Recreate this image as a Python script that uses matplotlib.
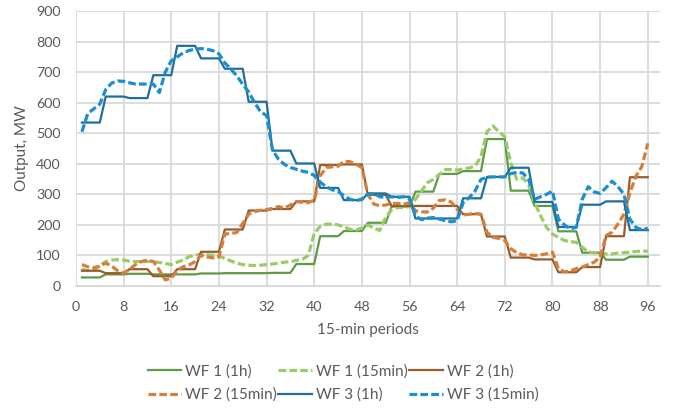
import numpy as np
import matplotlib
matplotlib.use("Agg")
import matplotlib.pyplot as plt

plt.rcParams["font.family"] = ["Lato", "DejaVu Sans"]

# hourly values (each repeated over four 15-min periods)
wf1_1h = [28, 38, 40, 38, 38, 41, 42, 42, 43, 72, 163, 180,
          207, 260, 309, 367, 376, 481, 312, 262, 179, 109, 86, 96]
wf2_1h = [50, 42, 55, 32, 55, 112, 185, 247, 252, 277, 396, 398,
          298, 262, 262, 262, 235, 162, 93, 87, 45, 62, 163, 356]
wf3_1h = [535, 620, 615, 690, 786, 745, 711, 603, 443, 401, 321, 281,
          303, 292, 221, 221, 287, 357, 387, 275, 193, 266, 277, 183]

# 15-min values
wf1_15 = [55, 50, 52, 66, 80, 85, 86, 85, 81, 80, 80, 80,
          80, 77, 74, 70, 78, 85, 96, 101, 104, 102, 101, 98,
          90, 82, 75, 70, 68, 67, 68, 70, 72, 75, 78, 80,
          84, 87, 100, 172, 195, 202, 203, 200, 193, 186, 183, 190,
          200, 190, 182, 225, 249, 257, 257, 260, 284, 311, 338, 349,
          365, 381, 381, 379, 384, 386, 392, 424, 505, 524, 505, 489,
          403, 349, 354, 332, 273, 230, 192, 170, 159, 149, 145, 143,
          127, 111, 109, 105, 105, 105, 108, 109, 111, 113, 114, 114]
wf2_15 = [70, 63, 60, 65, 75, 65, 50, 42, 55, 70, 80, 85,
          80, 52, 20, 25, 52, 63, 69, 80, 100, 95, 92, 95,
          170, 172, 175, 205, 235, 243, 248, 250, 254, 260, 255, 265,
          276, 274, 273, 281, 360, 388, 390, 392, 408, 407, 398, 388,
          300, 268, 263, 265, 270, 270, 268, 272, 246, 243, 242, 255,
          280, 282, 275, 251, 232, 235, 238, 235, 176, 159, 156, 149,
          122, 109, 102, 102, 100, 102, 105, 111, 57, 46, 49, 57,
          62, 70, 78, 95, 165, 176, 203, 235, 305, 359, 391, 467]
wf3_15 = [505, 565, 580, 595, 643, 664, 671, 670, 665, 661, 661, 661,
          661, 633, 700, 737, 750, 763, 771, 775, 777, 775, 770, 760,
          730, 710, 688, 660, 635, 600, 570, 558, 445, 415, 398, 388,
          382, 376, 372, 362, 340, 325, 315, 310, 295, 284, 279, 285,
          300, 303, 292, 290, 292, 290, 292, 285, 230, 217, 222, 224,
          219, 214, 210, 214, 273, 289, 311, 349, 356, 357, 357, 357,
          368, 372, 370, 349, 284, 292, 300, 311, 219, 200, 187, 192,
          284, 325, 308, 303, 322, 343, 325, 300, 219, 192, 184, 189]

periods = np.arange(1, 97)
x_ticks = np.arange(0, 97, 8)
y_ticks = np.arange(0, 901, 100)

text_color = "#595959"
grid_color = "#D9D9D9"

fig = plt.figure(figsize=(6.78, 4.16), dpi=100)
ax = fig.add_axes([0.112, 0.3125, 0.861, 0.661])

dash = (2.4, 1.0)
h1, = ax.plot(periods, np.repeat(wf1_1h, 4), color="#5F9A45", lw=1.6, label="WF 1 (1h)")
h2, = ax.plot(periods, wf1_15, color="#99CC68", lw=2.3, dashes=dash, label="WF 1 (15min)")
h3, = ax.plot(periods, np.repeat(wf2_1h, 4), color="#9A5A2A", lw=1.6, label="WF 2 (1h)")
h4, = ax.plot(periods, wf2_15, color="#D4803C", lw=2.3, dashes=dash, label="WF 2 (15min)")
h5, = ax.plot(periods, np.repeat(wf3_1h, 4), color="#1F6E9C", lw=1.6, label="WF 3 (1h)")
h6, = ax.plot(periods, wf3_15, color="#1B8ED2", lw=2.3, dashes=dash, label="WF 3 (15min)")

ax.set_xlim(0, 98)
ax.set_ylim(0, 900)
ax.set_xticks(x_ticks)
ax.set_yticks(y_ticks)
ax.grid(True, color=grid_color, lw=1.3)
ax.set_axisbelow(True)
for side in ["top", "right", "left"]:
    ax.spines[side].set_visible(False)
ax.spines["bottom"].set_color(grid_color)
ax.spines["bottom"].set_linewidth(1.3)
ax.tick_params(length=0, labelsize=10.3, colors=text_color)
ax.tick_params(axis="x", pad=11)
ax.tick_params(axis="y", pad=11)

ax.set_xlabel("15-min periods", fontsize=11, color=text_color, labelpad=7)
ax.set_ylabel("Output, MW", fontsize=11, color=text_color, labelpad=5)

# matplotlib fills legend columns first, so reorder for row-wise reading
handles = [h1, h4, h2, h5, h3, h6]
leg = ax.legend(handles=handles, labels=[h.get_label() for h in handles],
                loc="upper left", bbox_to_anchor=(0.11, -0.257), ncol=3,
                frameon=False, fontsize=11, handlelength=2.2, borderpad=0,
                columnspacing=0.1, handletextpad=0.25, labelspacing=0.6)
for t in leg.get_texts():
    t.set_color(text_color)

fig.savefig("out.png", dpi=100)
